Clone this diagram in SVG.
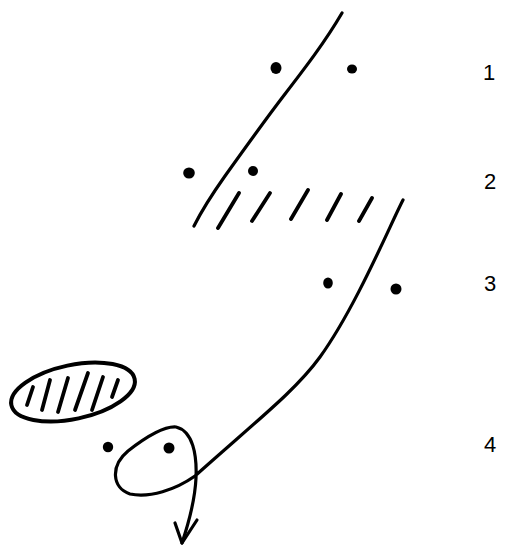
<svg xmlns="http://www.w3.org/2000/svg" width="506" height="546" viewBox="0 0 506 546">
<style>
.ln{fill:none;stroke:#000;stroke-width:3.2;stroke-linecap:round;stroke-linejoin:round}
.ht{fill:none;stroke:#000;stroke-width:3.8;stroke-linecap:round}
.dot{fill:#000}
.lbl{font-family:"Liberation Sans",Arial,sans-serif;font-size:22px;fill:#000}
</style>
<rect width="506" height="546" fill="#fff"/>
<g id="connectors">
<path class="ln" d="M342,13 C325,42 305,68 285,94 C265,120 245,148 225,176 C213,193 203,208 194,226"/>
<path class="ln" d="M403,200 C390,225 356,307 320,357 C296,390 260,418 195,476 C175,490 150,498 130,494 C112,488 110,466 128,451 C146,437 163,426 176,427 C193,431 197,455 196,478 C195,500 188,525 182,543"/>
<path class="ln" d="M175,523 L182,543 L197,520"/>
</g>
<g id="stage1">
<ellipse class="dot" cx="276" cy="68" rx="5.5" ry="6"/>
<ellipse class="dot" cx="352" cy="69" rx="5" ry="4.5"/>
<text class="lbl" x="483" y="80">1</text>
</g>
<g id="stage2">
<ellipse class="dot" cx="189" cy="173" rx="5.8" ry="5.5"/>
<circle class="dot" cx="253" cy="171" r="5"/>
<path class="ht" d="M218,228 L239,193 M252,221 L270,193 M291,219 L308,190 M327,220 L341,194 M359,221 L372,198"/>
<text class="lbl" x="484" y="189">2</text>
</g>
<g id="stage3">
<ellipse class="dot" cx="328" cy="283" rx="4.8" ry="5.5"/>
<circle class="dot" cx="396" cy="289" r="5.5"/>
<text class="lbl" x="484" y="291">3</text>
</g>
<g id="stage4">
<ellipse cx="73" cy="392" rx="63" ry="27" transform="rotate(-12 73 392)" fill="none" stroke="#000" stroke-width="4"/>
<path class="ht" d="M27,405 L33,387 M42,410 L50,380 M58,412 L68,378 M75,410 L88,373 M92,410 L103,377 M112,397 L118,380"/>
<circle class="dot" cx="108" cy="447" r="5.2"/>
<circle class="dot" cx="169" cy="448" r="5.5"/>
<text class="lbl" x="484" y="452">4</text>
</g>
</svg>
